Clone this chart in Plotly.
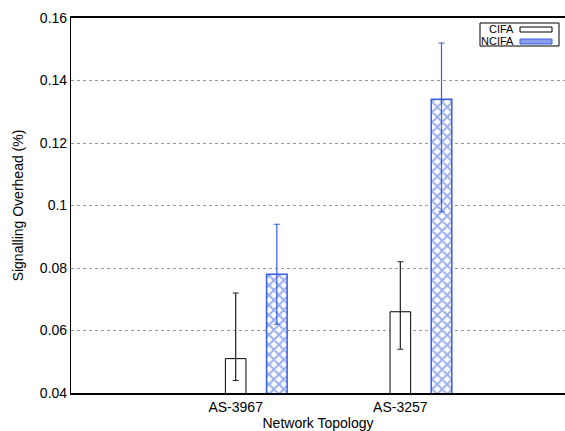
import plotly.graph_objects as go

categories = ["AS-3967", "AS-3257"]
series_names = ["CIFA", "NCIFA"]
cifa = [0.051, 0.066]
cifa_hi = [0.072, 0.082]
cifa_lo = [0.044, 0.054]
ncifa = [0.078, 0.134]
ncifa_hi = [0.094, 0.152]
ncifa_lo = [0.062, 0.098]
y_ticks = [0.04, 0.06, 0.08, 0.1, 0.12, 0.14, 0.16]
y_tick_text = ["0.04", "0.06", "0.08", "0.1", "0.12", "0.14", "0.16"]

pos = list(range(len(categories)))
offset = 0.25
width = 0.125
blue = "#3a5fe0"

fig = go.Figure()
fig.add_trace(go.Bar(
    x=[p for p in pos], y=cifa, width=width, name=series_names[0],
    marker=dict(color="white", line=dict(color="black", width=1)),
    error_y=dict(type="data", symmetric=False,
                 array=[h - v for h, v in zip(cifa_hi, cifa)],
                 arrayminus=[v - l for v, l in zip(cifa, cifa_lo)],
                 color="#222222", thickness=1.2, width=3),
))
fig.add_trace(go.Bar(
    x=[p + offset for p in pos], y=ncifa, width=width, name=series_names[1],
    marker=dict(color="white", line=dict(color=blue, width=1.5),
                pattern=dict(shape="x", fgcolor=blue, bgcolor="white", size=7, solidity=0.5)),
    error_y=dict(type="data", symmetric=False,
                 array=[h - v for h, v in zip(ncifa_hi, ncifa)],
                 arrayminus=[v - l for v, l in zip(ncifa, ncifa_lo)],
                 color=blue, thickness=1.2, width=3),
))

# manual gnuplot-style legend (text left, sample right)
L, T, B = 71, 18, 393
W, H = 494, 375
def px(x):
    return (x - L) / W
def py(y):
    return (B - y) / H

shapes = [
    dict(type="rect", xref="paper", yref="paper", x0=px(480), x1=px(559), y0=py(46), y1=py(23),
         line=dict(color="black", width=1), fillcolor="white", layer="above"),
    dict(type="rect", xref="paper", yref="paper", x0=px(520), x1=px(552), y0=py(32), y1=py(27),
         line=dict(color="black", width=1), fillcolor="white", layer="above"),
    dict(type="rect", xref="paper", yref="paper", x0=px(520), x1=px(552), y0=py(44), y1=py(39),
         line=dict(color=blue, width=1), fillcolor="#8aa0ee", layer="above"),
]
annotations = [
    dict(text=series_names[0], xref="paper", yref="paper", x=px(516), y=py(29.5), xanchor="right",
         yanchor="middle", showarrow=False, font=dict(size=11)),
    dict(text=series_names[1], xref="paper", yref="paper", x=px(516), y=py(41.5), xanchor="right",
         yanchor="middle", showarrow=False, font=dict(size=11)),
]

fig.update_layout(
    width=565, height=431,
    margin=dict(l=71, r=0, t=18, b=38),
    plot_bgcolor="white", paper_bgcolor="white",
    font=dict(family="Liberation Sans, Arial, sans-serif", size=14, color="black"),
    showlegend=False,
    barmode="overlay",
    shapes=shapes,
    annotations=annotations,
)
fig.update_xaxes(
    range=[-1, 2], tickvals=pos, ticktext=categories,
    showline=True, linecolor="black", linewidth=1.5, mirror=True,
    showgrid=False, zeroline=False, ticks="",
    title=dict(text="Network Topology", standoff=4, font=dict(size=14)),
)
fig.update_yaxes(
    range=[0.04, 0.16], tickvals=y_ticks, ticktext=y_tick_text,
    showline=True, linecolor="black", linewidth=1.2, mirror=False,
    showgrid=True, gridcolor="#999999", griddash="dot", gridwidth=0.8,
    zeroline=False, ticks="",
    title=dict(text="Signalling Overhead (%)", standoff=12, font=dict(size=14)),
)

fig.write_html("out.html")
